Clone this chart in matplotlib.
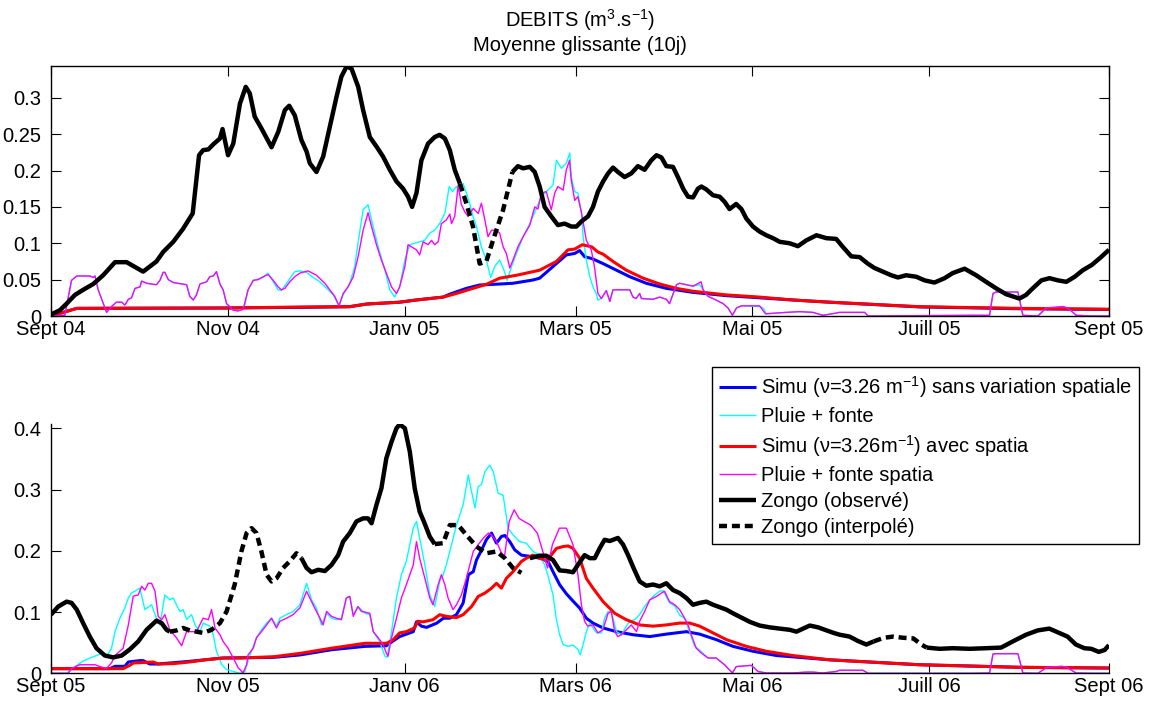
import numpy as np
import pandas as pd
import matplotlib
matplotlib.use('Agg')
import matplotlib.pyplot as plt

plt.rcParams['font.family'] = ['Liberation Sans', 'DejaVu Sans']
plt.rcParams['mathtext.fontset'] = 'custom'
plt.rcParams['mathtext.rm'] = 'Liberation Sans'
plt.rcParams['mathtext.default'] = 'regular'

TAILLE = 14.5
NAN = np.nan

# ---- Annee 2004-2005 : (jour depuis le 1er sept, debit m3/s) ----
debut_1 = '2004-09-01'
fin_1 = '2005-09-01'
mois_1 = ['2004-09-01', '2004-11-01', '2005-01-01', '2005-03-01', '2005-05-01', '2005-07-01', '2005-09-01']
noms_mois_1 = ['Sept 04', 'Nov 04', 'Janv 05', 'Mars 05', 'Mai 05', 'Juill 05', 'Sept 05']

zongo_obs_1 = [
    (0, 0.002), (3.1, 0.008), (5.4, 0.017), (8.3, 0.029), (11.1, 0.036), (14.6, 0.044), (18.0, 0.056),
    (22.1, 0.074), (26.1, 0.074), (31.8, 0.061), (36.4, 0.075), (38.7, 0.088), (42.2, 0.102), (45.6, 0.120),
    (48.9, 0.141), (51.1, 0.221), (52.5, 0.228), (54.3, 0.229), (56.0, 0.236), (58.3, 0.244), (59.2, 0.257),
    (61.1, 0.221), (62.9, 0.237), (65.2, 0.292), (67.2, 0.315), (68.6, 0.306), (70.3, 0.274), (72.6, 0.258),
    (76.1, 0.232), (78.4, 0.253), (80.7, 0.283), (82.2, 0.289), (84.1, 0.276), (86.4, 0.242), (88.2, 0.226),
    (89.3, 0.210), (91.6, 0.198), (93.9, 0.219), (96.2, 0.260), (98.5, 0.301), (100.2, 0.329), (102.0, 0.343),
    (103.7, 0.340), (106.0, 0.315), (107.7, 0.283), (110.0, 0.246), (112.3, 0.233), (114.6, 0.219),
    (116.9, 0.201), (119.2, 0.185), (121.5, 0.175), (123.2, 0.164), (124.6, 0.150), (126.1, 0.169),
    (127.8, 0.214), (130.1, 0.237), (132.4, 0.246), (134.1, 0.249), (135.9, 0.244), (137.6, 0.228),
    (139.3, 0.201), (141.1, 0.182), (150.0, NAN), (159.2, 0.198), (161.1, 0.206), (162.9, 0.203),
    (165.2, 0.205), (166.9, 0.198), (168.6, 0.178), (170.3, 0.150), (172.6, 0.137), (174.9, 0.125),
    (177.2, 0.127), (179.5, 0.123), (181.3, 0.123), (183.0, 0.130), (185.3, 0.137), (187.0, 0.150),
    (188.7, 0.171), (190.5, 0.185), (192.2, 0.196), (193.9, 0.204), (195.6, 0.198), (197.9, 0.191),
    (200.2, 0.196), (202.5, 0.206), (204.8, 0.201), (207.1, 0.214), (208.9, 0.221), (210.6, 0.218),
    (212.3, 0.206), (214.6, 0.205), (216.3, 0.191), (218.1, 0.175), (219.8, 0.164), (221.5, 0.163),
    (223.2, 0.175), (224.4, 0.178), (226.1, 0.174), (228.4, 0.166), (230.7, 0.164), (232.4, 0.157),
    (234.1, 0.147), (236.4, 0.154), (238.2, 0.147), (239.9, 0.134), (242.2, 0.123), (244.5, 0.116),
    (246.8, 0.111), (249.1, 0.107), (251.4, 0.102), (254.8, 0.100), (257.7, 0.096), (260.6, 0.104),
    (264.1, 0.111), (267.5, 0.107), (270.9, 0.106), (273.2, 0.095), (276.1, 0.082), (279.0, 0.081),
    (281.8, 0.072), (284.1, 0.066), (287.0, 0.061), (289.9, 0.056), (292.2, 0.053), (295.0, 0.056),
    (298.5, 0.054), (301.4, 0.049), (304.8, 0.046), (308.3, 0.052), (311.1, 0.059), (315.2, 0.065),
    (319.2, 0.056), (322.6, 0.047), (326.1, 0.038), (329.5, 0.030), (331.8, 0.027), (334.1, 0.024),
    (336.4, 0.029), (338.7, 0.038), (341.7, 0.049), (344.5, 0.052), (347.4, 0.049), (350.3, 0.047),
    (353.2, 0.054), (356.0, 0.063), (359.0, 0.070), (362.0, 0.080), (365.0, 0.091),
]
zongo_interp_1 = [
    (141.1, 0.182), (143.3, 0.155), (145.6, 0.123), (147.9, 0.072), (150.2, 0.075), (152.5, 0.104),
    (156.0, 0.146), (159.2, 0.198),
]
pluie_spatia_1 = [
    (0, 0), (4.8, 0.001), (7.1, 0.049), (8.9, 0.055), (13.4, 0.055), (14.6, 0.053), (15.2, 0.055),
    (16.3, 0.036), (19.2, 0.005), (20.9, 0.013), (22.6, 0.019), (24.4, 0.019), (25.5, 0.015), (26.7, 0.023),
    (27.8, 0.025), (29.0, 0.038), (30.7, 0.040), (31.3, 0.048), (33.0, 0.045), (36.4, 0.043), (37.6, 0.049),
    (38.7, 0.060), (39.3, 0.060), (40.5, 0.050), (42.2, 0.046), (46.8, 0.043), (47.9, 0.027), (49.1, 0.022),
    (50.2, 0.029), (51.4, 0.044), (53.7, 0.047), (54.8, 0.054), (56.0, 0.055), (57.1, 0.061), (58.3, 0.044),
    (59.4, 0.036), (60.6, 0.017), (62.9, 0.008), (64.6, 0.007), (66.3, 0.009), (68.0, 0.036), (69.8, 0.049),
    (71.5, 0.050), (73.2, 0.054), (74.9, 0.057), (76.7, 0.049), (78.4, 0.040), (79.5, 0.036), (80.7, 0.038),
    (82.4, 0.047), (84.1, 0.054), (85.9, 0.059), (88.7, 0.062), (91.6, 0.056), (94.5, 0.045), (97.9, 0.027),
    (99.4, 0.014), (100.8, 0.031), (102.5, 0.040), (104.3, 0.054), (106.0, 0.082), (107.7, 0.118),
    (109.4, 0.142), (110.6, 0.123), (112.3, 0.098), (114.0, 0.077), (115.7, 0.059), (117.5, 0.040),
    (119.2, 0.031), (120.3, 0.040), (122.1, 0.068), (123.2, 0.098), (124.4, 0.095), (126.1, 0.091),
    (127.2, 0.084), (128.4, 0.102), (130.1, 0.098), (131.3, 0.104), (132.4, 0.098), (133.6, 0.102),
    (134.7, 0.127), (136.4, 0.132), (137.6, 0.140), (138.2, 0.127), (139.3, 0.137), (140.5, 0.180),
    (141.6, 0.153), (142.8, 0.143), (143.9, 0.137), (145.7, 0.148), (147.4, 0.141), (148.5, 0.155),
    (149.7, 0.132), (150.8, 0.109), (152.0, 0.118), (153.7, 0.118), (154.8, 0.114), (156.0, 0.095),
    (157.1, 0.086), (158.3, 0.066), (159.4, 0.077), (161.1, 0.095), (162.9, 0.109), (165.2, 0.125),
    (166.9, 0.150), (168.0, 0.147), (169.2, 0.169), (170.9, 0.171), (172.6, 0.146), (173.8, 0.169),
    (174.9, 0.178), (176.7, 0.173), (177.8, 0.201), (178.9, 0.214), (179.5, 0.187), (180.7, 0.159),
    (181.8, 0.164), (183.0, 0.143), (184.7, 0.104), (186.4, 0.091), (187.5, 0.068), (188.7, 0.031),
    (189.9, 0.024), (191.6, 0.035), (192.8, 0.020), (193.9, 0.036), (199.7, 0.036), (200.8, 0.026),
    (201.9, 0.024), (203.1, 0.031), (203.7, 0.024), (207.7, 0.023), (210.0, 0.026), (212.3, 0.023),
    (213.4, 0.017), (215.8, 0.043), (216.9, 0.045), (219.2, 0.043), (221.5, 0.041), (224.3, 0.047),
    (225.0, 0.036), (226.7, 0.027), (228.4, 0.024), (231.9, 0.017), (233.6, 0.011), (235.1, 0.001),
    (236.5, 0.011), (238.2, 0.014), (244.5, 0.014), (246.5, 0.003), (253.7, 0.005), (258.3, 0.006),
    (262.9, 0.005), (266.3, 0.001), (270.9, 0.004), (272.0, 0.005), (280.7, 0.005), (281.9, 0),
    (318.1, 0.001), (323.8, 0.001), (325.0, 0.031), (326.1, 0.033), (333.6, 0.033), (335.3, 0.001),
    (340.5, 0), (343.3, 0.011), (349.1, 0.013), (350.8, 0.011), (353.7, 0.001), (359.0, 0), (365.0, 0),
]
pluie_1 = [
    (0, 0), (4.8, 0.001), (7.1, 0.049), (8.9, 0.055), (13.4, 0.055), (14.6, 0.053), (15.2, 0.055),
    (16.3, 0.036), (19.2, 0.005), (20.9, 0.013), (22.6, 0.019), (24.4, 0.019), (25.5, 0.015), (26.7, 0.023),
    (27.8, 0.025), (29.0, 0.038), (30.7, 0.040), (31.3, 0.048), (33.0, 0.045), (36.4, 0.043), (37.6, 0.049),
    (38.7, 0.060), (39.3, 0.060), (40.5, 0.050), (42.2, 0.046), (46.8, 0.043), (47.9, 0.027), (49.1, 0.022),
    (50.2, 0.029), (51.4, 0.044), (53.7, 0.047), (54.8, 0.054), (56.0, 0.055), (57.1, 0.061), (58.3, 0.044),
    (59.4, 0.036), (60.6, 0.017), (62.9, 0.008), (64.6, 0.007), (66.9, 0.015), (68.0, 0.036), (69.8, 0.049),
    (73.2, 0.053), (74.9, 0.059), (76.7, 0.047), (78.4, 0.036), (79.5, 0.035), (81.3, 0.045), (84.1, 0.061),
    (85.9, 0.062), (88.2, 0.060), (90.5, 0.053), (92.8, 0.047), (95.1, 0.038), (97.4, 0.029), (99.4, 0.014),
    (100.8, 0.029), (103.1, 0.045), (104.8, 0.068), (106.0, 0.102), (107.7, 0.146), (109.4, 0.153),
    (110.6, 0.132), (112.9, 0.095), (115.2, 0.063), (116.9, 0.036), (118.6, 0.026), (120.3, 0.040),
    (122.1, 0.077), (123.8, 0.098), (125.5, 0.100), (127.2, 0.102), (128.9, 0.104), (130.7, 0.114),
    (132.4, 0.118), (134.1, 0.127), (135.9, 0.141), (137.4, 0.178), (138.5, 0.171), (139.9, 0.178),
    (141.0, 0.171), (142.2, 0.182), (143.3, 0.169), (144.5, 0.155), (145.6, 0.137), (146.8, 0.123),
    (148.5, 0.095), (150.2, 0.077), (151.7, 0.053), (153.1, 0.068), (154.8, 0.077), (156.2, 0.064),
    (157.4, 0.049), (158.9, 0.068), (160.6, 0.086), (162.9, 0.109), (165.2, 0.127), (167.5, 0.148),
    (169.2, 0.164), (170.9, 0.171), (173.2, 0.180), (174.4, 0.214), (176.1, 0.203), (177.8, 0.210),
    (179.0, 0.224), (179.5, 0.191), (180.7, 0.171), (181.8, 0.169), (183.0, 0.141), (183.6, 0.109),
    (184.7, 0.077), (185.9, 0.054), (187.0, 0.040), (188.1, 0.031), (188.7, 0.022), (189.9, 0.024),
    (191.6, 0.035), (192.8, 0.020), (193.9, 0.036), (199.7, 0.036), (200.8, 0.026), (201.9, 0.024),
    (203.1, 0.031), (203.7, 0.024), (207.7, 0.023), (210.0, 0.026), (212.3, 0.023), (213.4, 0.017),
    (215.8, 0.043), (216.9, 0.045), (219.2, 0.043), (221.5, 0.041), (223.8, 0.043), (225.0, 0.036),
    (226.7, 0.027), (228.4, 0.024), (231.9, 0.017), (233.6, 0.011), (235.1, 0.001), (236.5, 0.011),
    (238.2, 0.014), (244.5, 0.013), (245.7, 0.011), (246.8, 0.003), (253.7, 0.005), (258.3, 0.006),
    (262.9, 0.005), (266.3, 0.001), (270.9, 0.004), (272.0, 0.005), (280.7, 0.005), (281.9, 0),
    (318.1, 0.001), (323.8, 0.001), (325.0, 0.031), (326.1, 0.033), (333.6, 0.033), (335.3, 0.001),
    (340.5, 0), (343.3, 0.011), (349.1, 0.013), (350.8, 0.011), (353.7, 0.001), (359.0, 0), (365.0, 0),
]
simu_1 = [
    (0, 0), (8.9, 0.0105), (60.0, 0.011), (89.0, 0.012), (103.0, 0.0128), (109.0, 0.0165), (120.3, 0.019),
    (126.0, 0.022), (135.3, 0.026), (137.6, 0.030), (143.3, 0.038), (147.9, 0.0426), (152.5, 0.0435),
    (159.4, 0.045), (166.3, 0.0495), (168.6, 0.052), (173.2, 0.068), (177.8, 0.084), (180.7, 0.086),
    (182.4, 0.090), (184.1, 0.0815), (186.6, 0.079), (190.5, 0.072), (195.1, 0.063), (199.7, 0.054),
    (205.4, 0.045), (212.3, 0.038), (221.5, 0.0325), (233.0, 0.028), (244.5, 0.025), (256.0, 0.022),
    (268.6, 0.019), (299.6, 0.0125), (334.1, 0.010), (365.0, 0.009),
]
simu_spatia_1 = [
    (0, 0), (8.9, 0.0105), (60.0, 0.011), (89.0, 0.0125), (103.0, 0.0128), (109.0, 0.0165), (120.3, 0.019),
    (126.0, 0.022), (135.3, 0.026), (139.9, 0.031), (145.6, 0.038), (150.2, 0.0435), (154.8, 0.052),
    (160.6, 0.056), (168.6, 0.063), (174.4, 0.075), (178.4, 0.091), (180.7, 0.092), (183.3, 0.098),
    (186.6, 0.095), (188.7, 0.088), (190.5, 0.085), (193.9, 0.075), (198.5, 0.063), (204.3, 0.052),
    (210.0, 0.044), (215.8, 0.038), (221.5, 0.034), (233.0, 0.029), (244.5, 0.026), (256.0, 0.022),
    (268.6, 0.019), (299.6, 0.0128), (334.1, 0.0105), (365.0, 0.0093),
]

# ---- Annee 2005-2006 ----
debut_2 = '2005-09-01'
fin_2 = '2006-09-01'
mois_2 = ['2005-09-01', '2005-11-01', '2006-01-01', '2006-03-01', '2006-05-01', '2006-07-01', '2006-09-01']
noms_mois_2 = ['Sept 05', 'Nov 05', 'Janv 06', 'Mars 06', 'Mai 06', 'Juill 06', 'Sept 06']

zongo_obs_2 = [
    (0, 0.0957), (2.5, 0.109), (5.4, 0.117), (7.1, 0.115), (8.9, 0.104), (11.1, 0.082), (13.4, 0.060),
    (15.7, 0.041), (18.6, 0.029), (21.5, 0.026), (24.4, 0.029), (27.2, 0.039), (30.1, 0.052), (33.0, 0.071),
    (36.4, 0.086), (38.2, 0.082), (39.9, 0.071), (41.0, 0.068), (60.0, NAN), (86.4, 0.188), (88.2, 0.172),
    (89.9, 0.165), (92.2, 0.169), (94.5, 0.167), (96.8, 0.177), (99.1, 0.193), (100.8, 0.215), (103.1, 0.229),
    (105.4, 0.248), (107.7, 0.253), (109.4, 0.253), (110.6, 0.245), (112.3, 0.275), (114.0, 0.302),
    (115.7, 0.351), (117.5, 0.378), (119.2, 0.400), (120.3, 0.4065), (122.1, 0.400), (123.8, 0.362),
    (125.5, 0.302), (127.2, 0.264), (128.9, 0.245), (130.7, 0.223), (132.4, 0.211), (150.0, NAN),
    (165.2, 0.188), (168.6, 0.192), (170.9, 0.192), (173.2, 0.185), (175.5, 0.168), (177.8, 0.167),
    (180.1, 0.165), (181.8, 0.177), (184.1, 0.193), (185.9, 0.188), (187.6, 0.188), (189.3, 0.204),
    (191.0, 0.218), (192.8, 0.216), (195.6, 0.221), (197.4, 0.210), (199.1, 0.193), (200.8, 0.174),
    (203.1, 0.150), (205.4, 0.143), (207.7, 0.145), (210.0, 0.142), (212.3, 0.147), (214.6, 0.136),
    (216.9, 0.131), (219.2, 0.123), (221.5, 0.112), (223.8, 0.115), (226.1, 0.117), (228.4, 0.112),
    (230.7, 0.108), (233.0, 0.104), (235.3, 0.098), (238.2, 0.091), (241.1, 0.084), (244.5, 0.078),
    (248.0, 0.075), (251.4, 0.073), (254.9, 0.071), (257.2, 0.068), (259.5, 0.073), (261.8, 0.078),
    (264.7, 0.075), (267.6, 0.070), (270.0, 0.066), (272.1, 0.063), (275.5, 0.060), (278.3, 0.053),
    (281.3, 0.047), (283.8, 0.052), (292.0, NAN), (302.1, 0.042), (306.6, 0.040), (311.1, 0.041),
    (316.9, 0.040), (322.6, 0.041), (327.8, 0.042), (331.8, 0.052), (336.4, 0.063), (340.4, 0.070),
    (344.4, 0.073), (347.8, 0.066), (350.7, 0.060), (353.6, 0.047), (356.5, 0.041), (358.9, 0.040),
    (361.5, 0.035), (363.5, 0.038), (365.0, 0.046),
]
zongo_interp_2 = [
    (41.0, 0.068), (43.3, 0.070), (45.6, 0.074), (47.9, 0.070), (50.2, 0.068), (52.5, 0.066), (55.4, 0.071),
    (58.3, 0.082), (60.6, 0.101), (63.4, 0.145), (65.7, 0.199), (67.5, 0.229), (69.2, 0.237), (70.9, 0.229),
    (72.6, 0.199), (74.4, 0.161), (76.1, 0.150), (77.8, 0.155), (80.1, 0.172), (82.4, 0.183), (84.7, 0.196),
    (86.4, 0.188), (110.0, NAN), (132.4, 0.211), (135.3, 0.2125), (137.6, 0.242), (140.5, 0.242),
    (143.3, 0.226), (146.8, 0.207), (150.2, 0.196), (153.7, 0.199), (156.6, 0.188), (159.4, 0.172),
    (162.3, 0.164), (220.0, NAN), (283.8, 0.052), (287.3, 0.058), (290.7, 0.060), (294.0, 0.058),
    (297.5, 0.057), (300.3, 0.047), (302.1, 0.042),
]
pluie_spatia_2 = [
    (0, 0), (6.0, 0), (7.1, 0.008), (10.0, 0.014), (15.2, 0.014), (16.9, 0.011), (19.2, 0.008), (20.9, 0.017),
    (22.1, 0.029), (24.9, 0.041), (26.7, 0.079), (28.4, 0.126), (30.1, 0.128), (31.3, 0.142), (32.4, 0.136),
    (33.6, 0.147), (34.7, 0.147), (35.9, 0.134), (37.0, 0.093), (38.2, 0.0875), (39.3, 0.096), (41.0, 0.071),
    (43.3, 0.058), (45.1, 0.045), (45.6, 0.052), (46.8, 0.068), (50.2, 0.068), (52.5, 0.090), (54.3, 0.0875),
    (55.4, 0.104), (56.6, 0.074), (58.3, 0.063), (59.4, 0.052), (61.1, 0.041), (62.9, 0.025), (64.6, 0.009),
    (66.3, 0.001), (67.5, 0.014), (68.0, 0.030), (69.8, 0.041), (70.9, 0.058), (72.6, 0.068), (74.4, 0.079),
    (76.1, 0.090), (77.8, 0.074), (79.0, 0.085), (81.3, 0.090), (83.6, 0.096), (85.9, 0.107), (88.2, 0.134),
    (89.3, 0.123), (91.0, 0.1065), (92.8, 0.090), (93.9, 0.079), (95.1, 0.101), (96.8, 0.093), (98.5, 0.090),
    (100.2, 0.0875), (101.9, 0.123), (103.1, 0.1255), (104.3, 0.093), (105.9, 0.109), (107.1, 0.101),
    (108.3, 0.100), (110.0, 0.098), (111.2, 0.068), (112.9, 0.058), (114.6, 0.047), (115.7, 0.033),
    (116.3, 0.028), (117.5, 0.058), (119.2, 0.090), (120.9, 0.123), (122.6, 0.1445), (125.0, 0.177),
    (126.1, 0.215), (127.2, 0.188), (129.0, 0.155), (130.7, 0.123), (131.8, 0.112), (133.6, 0.145),
    (134.7, 0.161), (135.9, 0.1445), (137.0, 0.123), (138.7, 0.104), (139.9, 0.112), (141.6, 0.128),
    (143.3, 0.155), (144.5, 0.177), (145.7, 0.199), (147.4, 0.210), (149.2, 0.221), (150.9, 0.229),
    (152.0, 0.226), (153.7, 0.215), (155.2, 0.199), (156.4, 0.188), (158.1, 0.248), (159.8, 0.267),
    (161.5, 0.253), (163.2, 0.248), (165.5, 0.242), (167.8, 0.229), (169.5, 0.202), (171.3, 0.172),
    (173.0, 0.210), (175.4, 0.237), (177.8, 0.237), (180.1, 0.210), (181.8, 0.161), (183.0, 0.112),
    (184.1, 0.085), (185.2, 0.077), (187.0, 0.079), (188.7, 0.066), (190.4, 0.071), (192.2, 0.098),
    (193.3, 0.101), (194.5, 0.068), (195.6, 0.060), (196.8, 0.063), (198.5, 0.071), (200.2, 0.079),
    (202.0, 0.068), (203.1, 0.085), (204.8, 0.101), (206.6, 0.120), (208.9, 0.1255), (210.6, 0.131),
    (211.7, 0.134), (213.4, 0.117), (215.2, 0.112), (216.9, 0.104), (218.6, 0.090), (219.8, 0.079),
    (220.9, 0.063), (222.6, 0.041), (224.4, 0.033), (226.7, 0.025), (229.5, 0.025), (232.4, 0.014),
    (235.1, 0.0005), (236.4, 0.011), (241.6, 0.013), (243.9, 0.003), (246.8, 0.0005), (256.0, 0.0005),
    (260.6, 0.002), (262.9, 0.002), (266.3, 0.0005), (270.9, 0.003), (272.1, 0.005), (280.1, 0.005),
    (281.9, 0), (318.0, 0), (323.8, 0.0005), (325.0, 0.0315), (326.1, 0.032), (333.6, 0.032),
    (335.3, 0.0005), (340.5, 0), (343.6, 0.0098), (348.8, 0.0114), (350.5, 0.0098), (353.6, 0.0005),
    (359.0, 0), (365.0, 0),
]
pluie_2 = [
    (0, 0), (5.4, 0), (7.7, 0.009), (11.1, 0.020), (14.0, 0.026), (15.7, 0.029), (17.5, 0.033), (19.2, 0.028),
    (20.9, 0.041), (22.1, 0.068), (23.8, 0.090), (25.5, 0.107), (26.7, 0.123), (27.8, 0.131), (30.7, 0.139),
    (32.4, 0.104), (34.7, 0.112), (36.4, 0.090), (37.6, 0.079), (39.3, 0.128), (41.0, 0.120), (42.2, 0.123),
    (43.3, 0.112), (44.5, 0.101), (45.6, 0.104), (46.8, 0.088), (48.5, 0.096), (49.7, 0.079), (51.4, 0.068),
    (52.5, 0.082), (54.8, 0.077), (56.0, 0.063), (57.1, 0.036), (58.9, 0.014), (60.6, 0.006), (62.9, 0.003),
    (65.2, 0), (66.9, 0.003), (68.6, 0.029), (70.9, 0.058), (72.6, 0.071), (74.4, 0.082), (76.1, 0.090),
    (77.8, 0.077), (79.0, 0.090), (81.3, 0.096), (83.6, 0.101), (85.9, 0.112), (88.2, 0.147), (89.9, 0.120),
    (91.6, 0.1065), (93.3, 0.079), (95.1, 0.098), (96.8, 0.090), (98.5, 0.0875), (100.2, 0.090),
    (101.9, 0.123), (103.1, 0.1255), (104.3, 0.0957), (105.9, 0.109), (107.1, 0.104), (108.3, 0.098),
    (110.0, 0.0957), (111.2, 0.068), (113.4, 0.052), (115.2, 0.028), (116.0, 0.026), (117.5, 0.068),
    (119.2, 0.123), (120.9, 0.161), (122.6, 0.183), (125.0, 0.237), (126.1, 0.248), (127.2, 0.221),
    (129.0, 0.177), (130.7, 0.128), (132.4, 0.109), (134.1, 0.150), (135.3, 0.161), (136.4, 0.177),
    (138.2, 0.210), (139.9, 0.242), (142.2, 0.275), (144.0, 0.324), (145.1, 0.297), (146.3, 0.270),
    (147.4, 0.305), (148.5, 0.308), (149.7, 0.329), (151.4, 0.340), (152.6, 0.329), (154.3, 0.294),
    (156.0, 0.291), (157.7, 0.237), (159.4, 0.226), (161.7, 0.215), (164.0, 0.2125), (166.3, 0.199),
    (168.6, 0.193), (170.3, 0.177), (171.4, 0.161), (173.2, 0.128), (174.3, 0.090), (175.5, 0.063),
    (176.7, 0.047), (178.4, 0.044), (180.1, 0.046), (181.8, 0.039), (182.6, 0.030), (183.6, 0.047),
    (184.7, 0.068), (185.9, 0.082), (187.0, 0.074), (188.2, 0.066), (189.9, 0.066), (191.0, 0.090),
    (192.2, 0.101), (193.3, 0.101), (195.1, 0.068), (196.8, 0.063), (198.5, 0.077), (199.7, 0.085),
    (201.4, 0.0875), (203.1, 0.096), (204.8, 0.109), (206.6, 0.120), (208.3, 0.128), (210.0, 0.134),
    (211.2, 0.135), (213.4, 0.115), (215.2, 0.110), (216.9, 0.095), (218.6, 0.090), (220.3, 0.068),
    (222.0, 0.045), (224.4, 0.035), (226.7, 0.025), (229.5, 0.025), (232.4, 0.014), (235.1, 0.0005),
    (236.4, 0.011), (241.6, 0.013), (243.9, 0.003), (246.8, 0.0005), (256.0, 0.0005), (260.6, 0.002),
    (262.9, 0.002), (266.3, 0.0005), (270.9, 0.003), (272.1, 0.005), (280.1, 0.005), (281.9, 0),
    (318.0, 0), (323.8, 0.0005), (325.0, 0.0315), (326.1, 0.032), (333.6, 0.032), (335.3, 0.0005),
    (340.5, 0), (343.6, 0.0098), (348.8, 0.0114), (350.5, 0.0098), (353.6, 0.0005), (359.0, 0), (365.0, 0),
]
simu_2 = [
    (0, 0.0076), (20.3, 0.0076), (22.1, 0.0114), (25.5, 0.0114), (26.7, 0.0185), (30.7, 0.0207),
    (31.8, 0.0207), (34.1, 0.0152), (37.0, 0.0152), (47.9, 0.0196), (59.4, 0.025), (76.7, 0.026),
    (85.9, 0.030), (96.8, 0.0385), (108.3, 0.044), (115.7, 0.045), (118.1, 0.053), (120.3, 0.060),
    (125.0, 0.068), (126.1, 0.084), (127.8, 0.077), (129.6, 0.075), (133.1, 0.082), (135.4, 0.090),
    (137.6, 0.090), (139.9, 0.0957), (142.2, 0.1147), (144.0, 0.161), (145.7, 0.166), (146.8, 0.185),
    (148.6, 0.2016), (150.2, 0.218), (152.0, 0.229), (153.7, 0.2125), (155.4, 0.2234), (156.6, 0.225),
    (158.3, 0.215), (160.0, 0.2016), (162.3, 0.193), (165.2, 0.191), (168.6, 0.188), (171.5, 0.1826),
    (173.2, 0.166), (175.5, 0.1446), (177.8, 0.130), (180.1, 0.118), (182.4, 0.1065), (184.7, 0.090),
    (187.0, 0.082), (190.5, 0.074), (195.1, 0.068), (200.8, 0.063), (206.6, 0.060), (212.3, 0.064),
    (219.2, 0.068), (223.8, 0.064), (229.5, 0.055), (235.3, 0.044), (242.2, 0.036), (250.3, 0.029),
    (258.3, 0.026), (268.7, 0.022), (299.6, 0.014), (334.1, 0.0098), (365.0, 0.0085),
]
simu_spatia_2 = [
    (0, 0.0076), (24.9, 0.0076), (27.2, 0.013), (28.4, 0.0168), (35.3, 0.0185), (37.0, 0.0152),
    (42.2, 0.0158), (47.9, 0.0185), (53.7, 0.0223), (59.4, 0.025), (65.2, 0.025), (76.7, 0.027),
    (85.9, 0.0325), (96.8, 0.041), (108.3, 0.049), (115.8, 0.049), (118.1, 0.055), (120.3, 0.066),
    (122.6, 0.068), (125.4, 0.074), (126.6, 0.085), (128.3, 0.084), (131.8, 0.0875), (134.1, 0.0957),
    (136.4, 0.093), (139.9, 0.091), (142.2, 0.0957), (145.1, 0.109), (147.4, 0.1255), (149.7, 0.131),
    (152.0, 0.139), (153.7, 0.147), (155.4, 0.139), (157.1, 0.155), (159.4, 0.166), (162.3, 0.1826),
    (164.0, 0.188), (166.3, 0.193), (168.6, 0.188), (170.9, 0.185), (172.6, 0.193), (174.4, 0.204),
    (176.7, 0.207), (178.4, 0.208), (180.1, 0.204), (182.4, 0.188), (184.7, 0.155), (187.0, 0.139),
    (190.5, 0.117), (194.5, 0.098), (198.5, 0.0875), (203.1, 0.079), (207.7, 0.077), (212.3, 0.079),
    (216.9, 0.082), (220.4, 0.082), (223.8, 0.077), (228.4, 0.066), (233.0, 0.055), (239.9, 0.044),
    (246.8, 0.036), (256.0, 0.029), (268.7, 0.022), (299.6, 0.014), (334.1, 0.0098), (365.0, 0.0087),
]

legende = [
    'Simu (ν=3.26 m$^{-1}$) sans variation spatiale',
    'Pluie + fonte',
    'Simu (ν=3.26m$^{-1}$) avec spatia',
    'Pluie + fonte spatia',
    'Zongo (observé)',
    'Zongo (interpolé)',
]


def serie(debut, points):
    jours, q = np.array(points, dtype=float).T
    return pd.Timestamp(debut) + pd.to_timedelta(jours, unit='D'), q


def tracer(ax, debut, series):
    lignes = []
    styles = [
        dict(color='blue', lw=2.2),
        dict(color='cyan', lw=1.0),
        dict(color='red', lw=2.2),
        dict(color='magenta', lw=1.0),
        dict(color='black', lw=3.2),
        dict(color='black', lw=3.2, linestyle=(0, (1.8, 1.1))),
    ]
    for pts, st in zip(series, styles):
        t, q = serie(debut, pts)
        lignes += ax.plot(t, q, solid_capstyle='butt', **st)
    return lignes


def habiller(ax, debut, fin, mois, noms, yticks, ymax, boite):
    ax.set_xlim(pd.Timestamp(debut), pd.Timestamp(fin))
    ax.set_ylim(0, ymax)
    ax.set_xticks(pd.to_datetime(mois))
    ax.set_xticklabels(noms)
    ax.set_yticks(yticks)
    ax.set_yticklabels(['0' if v == 0 else ('%g' % v) for v in yticks])
    ax.tick_params(direction='in', length=7, width=0.8, labelsize=TAILLE,
                   top=boite, right=boite)
    ax.tick_params(axis='x', pad=3)
    ax.tick_params(axis='y', pad=7)
    for cote in ['top', 'right']:
        ax.spines[cote].set_visible(boite)
    for s in ax.spines.values():
        s.set_linewidth(1.0)


fig = plt.figure(figsize=(11.5, 7.01), dpi=100)
ax1 = fig.add_axes([0.0443, 0.5492, 0.92, 0.357])
ax2 = fig.add_axes([0.0443, 0.0395, 0.92, 0.3556])

tracer(ax1, debut_1, [simu_1, pluie_1, simu_spatia_1, pluie_spatia_1, zongo_obs_1, zongo_interp_1])
lignes = tracer(ax2, debut_2, [simu_2, pluie_2, simu_spatia_2, pluie_spatia_2, zongo_obs_2, zongo_interp_2])

habiller(ax1, debut_1, fin_1, mois_1, noms_mois_1, [0, 0.05, 0.1, 0.15, 0.2, 0.25, 0.3], 0.344, True)
habiller(ax2, debut_2, fin_2, mois_2, noms_mois_2, [0, 0.1, 0.2, 0.3, 0.4], 0.407, False)

# titre sur deux lignes au-dessus du premier graphe
fig.text(580 / 1150, 1 - 27 / 701, 'DEBITS (m$^{3}$.s$^{-1}$)', ha='center', va='baseline', fontsize=TAILLE)
fig.text(580 / 1150, 1 - 51 / 701, 'Moyenne glissante (10j)', ha='center', va='baseline', fontsize=TAILLE)

leg = ax2.legend(lignes, legende, loc='upper left',
                 bbox_to_anchor=(712 / 1150, 1 - 367 / 701), bbox_transform=fig.transFigure,
                 borderaxespad=0, fancybox=False, framealpha=1, edgecolor='black',
                 handlelength=1.85, handletextpad=0.25, labelspacing=0.35, borderpad=0.35,
                 fontsize=TAILLE)
leg.get_frame().set_linewidth(1.0)

fig.savefig('out.png', dpi=100)
